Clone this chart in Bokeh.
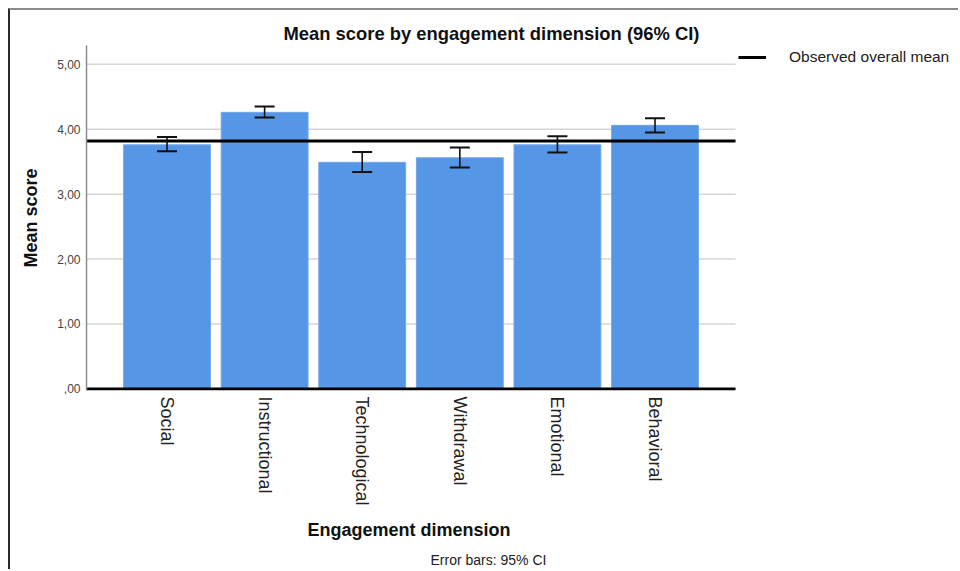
import math
from bokeh.plotting import figure
from bokeh.models import (Range1d, FixedTicker, Whisker, TeeHead, ColumnDataSource, Title,
                          Legend, LegendItem)
from bokeh.embed import file_html
from bokeh.resources import INLINE

categories = ["Social", "Instructional", "Technological", "Withdrawal", "Emotional", "Behavioral"]
means = [3.76, 4.26, 3.49, 3.56, 3.76, 4.06]
ci_low = [3.66, 4.18, 3.34, 3.41, 3.64, 3.95]
ci_high = [3.88, 4.35, 3.65, 3.72, 3.89, 4.17]
overall_mean = 3.82
y_ticks = [0, 1, 2, 3, 4, 5]
y_tick_labels = [",00", "1,00", "2,00", "3,00", "4,00", "5,00"]

FONT = "Liberation Sans"
W, H = 950, 561
PAD = 0.825                     # category padding at each end of the axis
xpos = list(range(len(categories)))
x_lo, x_hi = -PAD, len(categories) - 1 + PAD
src = ColumnDataSource(dict(x=xpos, top=means, lower=ci_low, upper=ci_high))

# frame spans to the right edge so that the legend (inside the frame) is not clipped
frame_px = W - 76
x_end = x_lo + frame_px / 97.6

p = figure(width=W, height=H, output_backend="svg", toolbar_location=None,
           x_range=Range1d(x_lo, x_end),
           y_range=Range1d(-0.025, 5.29),
           min_border_left=76, min_border_right=0, min_border_top=35, min_border_bottom=181)
p.styles = {"border-top": "2px solid #8a8a8a", "border-left": "2px solid #2b2b2b",
            "margin-top": "8px", "margin-left": "8px"}
p.outline_line_color = None
p.background_fill_color = "white"
p.border_fill_color = "white"
p.xgrid.grid_line_color = None
p.ygrid.grid_line_color = None

# title
p.title.text = "Mean score by engagement dimension (96% CI)"
p.title.text_font = FONT
p.title.text_font_size = "18.4px"
p.title.text_font_style = "bold"
p.title.text_color = "#111111"
p.title.align = "left"
p.title.offset = 197
p.title.standoff = 4

# horizontal gridlines limited to the category axis extent
grid_y = y_ticks[1:]
p.segment(x0=[x_lo] * len(grid_y), x1=[x_hi] * len(grid_y), y0=grid_y, y1=grid_y,
          line_color="#d6d6d6", line_width=1.5)

# bars
p.vbar(x="x", top="top", bottom=0, width=0.89, source=src,
       fill_color="#5596e6", line_color="#72a8ec", line_width=1)

# baseline at zero
p.segment(x0=[x_lo], x1=[x_hi], y0=[0], y1=[0], line_color="black", line_width=3)

# overall mean line
mean_r = p.segment(x0=[x_lo], x1=[x_hi], y0=[overall_mean], y1=[overall_mean],
                   line_color="black", line_width=3)

# error bars
w = Whisker(base="x", lower="lower", upper="upper", source=src, level="overlay",
            line_color="#111111", line_width=1.6,
            upper_head=TeeHead(size=20, line_color="#111111", line_width=2),
            lower_head=TeeHead(size=20, line_color="#111111", line_width=2))
p.add_layout(w)

# axes
xa = p.xaxis[0]
xa.ticker = FixedTicker(ticks=xpos)
xa.major_label_overrides = {i: c for i, c in zip(xpos, categories)}
xa.major_label_orientation = -math.pi / 2
xa.major_label_text_font = FONT
xa.major_label_text_font_size = "18px"
xa.major_label_text_color = "#222222"
xa.major_label_standoff = 0
xa.major_tick_line_color = None
xa.minor_tick_line_color = None
xa.axis_line_color = None

ya = p.yaxis[0]
ya.ticker = FixedTicker(ticks=y_ticks)
ya.major_label_overrides = {t: l for t, l in zip(y_ticks, y_tick_labels)}
ya.major_label_text_font = FONT
ya.major_label_text_font_size = "12px"
ya.major_label_text_color = "#444444"
ya.major_label_standoff = 6
ya.major_tick_out = 0
ya.major_tick_in = 0
ya.minor_tick_line_color = None
ya.axis_line_color = "#8c8c8c"
ya.axis_line_width = 1.5
ya.axis_label = "Mean score"
ya.axis_label_text_font = FONT
ya.axis_label_text_font_size = "18px"
ya.axis_label_text_font_style = "bold"
ya.axis_label_text_color = "#111111"
ya.axis_label_standoff = 13

# x axis title (centred under the category area, not the whole frame)
xtitle = Title(text="Engagement dimension", text_font=FONT, text_font_size="18px",
               text_font_style="bold", text_color="#111111", align="left", offset=221, standoff=18)
p.add_layout(xtitle, "below")

# footnote
foot = Title(text="Error bars: 95% CI", text_font=FONT, text_font_size="14px",
             text_font_style="normal", text_color="#222222", align="left", offset=344, standoff=2)
p.add_layout(foot, "below")

# legend at the right, beside the plot area
lg = Legend(items=[LegendItem(label="Observed overall mean", renderers=[mean_r])],
            location=(652, 324), margin=0, padding=0, border_line_color=None,
            background_fill_alpha=0, glyph_width=28, glyph_height=16, label_standoff=23,
            label_text_font=FONT, label_text_font_size="15.5px", label_text_color="#222222")
p.add_layout(lg, "center")

open("out.html", "w").write(file_html(p, INLINE))
